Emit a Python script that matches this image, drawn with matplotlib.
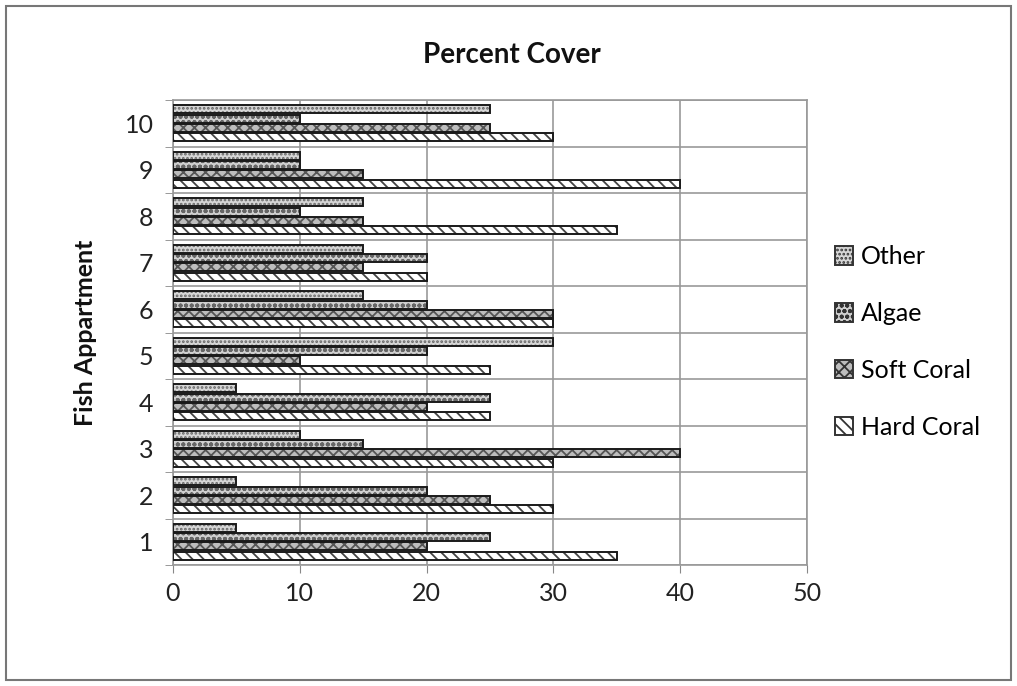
import numpy as np
import matplotlib.pyplot as plt
from matplotlib.patches import Rectangle

plt.rcParams['font.family'] = ['Lato', 'DejaVu Sans']
plt.rcParams['hatch.linewidth'] = 1.3

apartments = ['1', '2', '3', '4', '5', '6', '7', '8', '9', '10']
hard_coral = [35, 30, 30, 25, 25, 30, 20, 35, 40, 30]
soft_coral = [20, 25, 40, 20, 10, 30, 15, 15, 15, 25]
algae = [25, 20, 15, 25, 20, 20, 20, 10, 10, 10]
other = [5, 5, 10, 5, 30, 15, 15, 15, 10, 25]

series = [
    ('Hard Coral', hard_coral, 'white', '\\\\\\', '#444444'),
    ('Soft Coral', soft_coral, '#bdbdbd', 'xxx', '#555555'),
    ('Algae', algae, '#cfcfcf', 'ooo', '#666666'),
    ('Other', other, '#d6d6d6', '....', '#666666'),
]

fig = plt.figure(figsize=(10.17, 6.86), dpi=100)
ax = fig.add_axes([173 / 1017, 1 - 565 / 686, (807 - 173) / 1017, (565 - 100) / 686])

y = np.arange(len(apartments))
h = 0.2
handles = []
for i, (name, vals, fc, hatch, hc) in enumerate(series):
    pos = y - 0.3 + i * h
    ax.barh(pos, vals, height=h * 0.85, color=fc, edgecolor=hc,
            hatch=hatch, linewidth=0, zorder=3)
    ax.barh(pos, vals, height=h * 0.85, fill=False, edgecolor='#1a1a1a',
            linewidth=1.4, zorder=4)
    handles.append(Rectangle((0, 0), 1, 1, facecolor=fc, edgecolor='#333333',
                             hatch=hatch, linewidth=1.4, label=name))

ax.set_xlim(0, 50)
ax.set_ylim(-0.5, len(apartments) - 0.5)
ax.set_xticks(range(0, 51, 10))
ax.set_yticks(y)
ax.set_yticklabels(apartments)
ax.set_yticks(np.arange(-0.5, len(apartments), 1), minor=True)
ax.tick_params(axis='y', which='major', length=0, labelsize=18, pad=14, colors='#222222')
ax.tick_params(axis='y', which='minor', length=6, color='#888888')
ax.tick_params(axis='x', length=6, color='#888888', labelsize=18, pad=6, labelcolor='#222222')
ax.grid(axis='x', color='#999999', linewidth=1.2, zorder=0)
ax.grid(axis='y', which='minor', color='#999999', linewidth=1.2, zorder=0)
for s in ax.spines.values():
    s.set_color('#999999')
    s.set_linewidth(1.2)

fig.text(512 / 1017, 1 - 55 / 686, 'Percent Cover', fontsize=20, fontweight='bold',
         ha='center', va='center', color='#111111')
ax.set_ylabel('Fish Appartment', fontsize=18, fontweight='bold', labelpad=20, color='#111111')

leg = fig.legend(handles[::-1], [s[0] for s in series][::-1], loc='center left',
                 bbox_to_anchor=(812 / 1017, 1 - 342 / 686), frameon=False,
                 fontsize=18, handlelength=0.75, handleheight=0.75,
                 handletextpad=0.3, labelspacing=1.35)

fig.patches.append(Rectangle((6 / 1017, 6 / 686), 1005 / 1017, 674 / 686,
                             transform=fig.transFigure, fill=False,
                             edgecolor='#777777', linewidth=1.5))

fig.savefig('out.png', dpi=100)
